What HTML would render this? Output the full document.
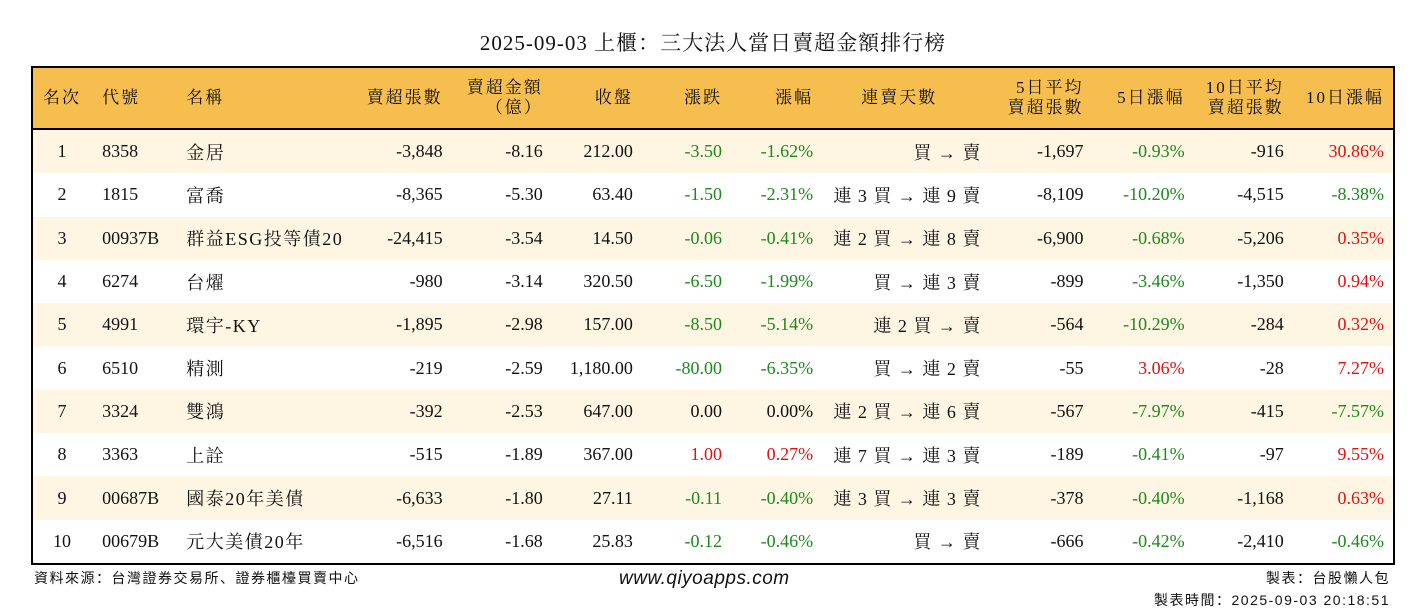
<!DOCTYPE html>
<html><head><meta charset="utf-8">
<style>
body{margin:0;width:1426px;height:612px;background:#fff;font-family:"Liberation Serif","Noto Serif CJK SC",serif;color:#111;position:relative;overflow:hidden}
#title{position:absolute;top:27px;left:0;width:1426px;text-align:center;font-size:21px;letter-spacing:1px}
#tbl{position:absolute;left:31px;top:66px;width:1364px;border:2px solid #000;box-sizing:border-box;border-collapse:collapse;font-size:18px;table-layout:fixed}
#tbl th{background:#F6BE4F;height:60px;font-weight:normal;font-size:17px;line-height:20px;border-bottom:2px solid #000;padding:0;letter-spacing:2px}
#tbl td{height:43.3px;padding:0;white-space:nowrap}
#tbl tr.odd td{background:#FEF6E2}
.r{text-align:right}.c{text-align:center}.l{text-align:left}
.g{color:#1b8a1b}.red{color:#e31010}
.cjk{letter-spacing:1.5px}
.days{letter-spacing:1px}
.foot{position:absolute;font-family:"Liberation Sans","Noto Sans CJK SC",sans-serif;font-size:14px;letter-spacing:1.5px}
</style></head><body>
<div id="title">2025-09-03 上櫃：三大法人當日賣超金額排行榜</div>
<table id="tbl">
<colgroup><col style="width:59px"><col style="width:88px"><col style="width:167px"><col style="width:96px"><col style="width:103px"><col style="width:87px"><col style="width:89px"><col style="width:91px"><col style="width:172px"><col style="width:98px"><col style="width:101px"><col style="width:99px"><col style="width:110px"></colgroup>
<thead><tr>
<th class="c">名次</th>
<th class="l" style="padding-left:11px">代號</th>
<th class="l" style="padding-left:7px">名稱</th>
<th class="r">賣超張數</th>
<th class="r" style="padding-right:3px">賣超金額<br>（億）</th>
<th class="r">收盤</th>
<th class="r">漲跌</th>
<th class="r">漲幅</th>
<th class="c">連賣天數</th>
<th class="r">5日平均<br>賣超張數</th>
<th class="r">5日漲幅</th>
<th class="r">10日平均<br>賣超張數</th>
<th class="r" style="padding-right:9px">10日漲幅</th>
</tr></thead>
<tbody id="tb"></tbody>
</table>
<div class="foot" style="left:34px;top:568px">資料來源：台灣證券交易所、證券櫃檯買賣中心</div>
<div class="foot" style="left:619px;top:568px;font-size:19px;font-style:italic;letter-spacing:0.5px">www.qiyoapps.com</div>
<div class="foot" style="right:36px;top:567px;text-align:right;line-height:22px">製表：台股懶人包<br>製表時間：2025-09-03 20:18:51</div>
<script>
const rows=[
["1","8358","金居","-3,848","-8.16","212.00","-3.50","-1.62%","買 → 賣","-1,697","-0.93%","-916","30.86%"],
["2","1815","富喬","-8,365","-5.30","63.40","-1.50","-2.31%","連 3 買 → 連 9 賣","-8,109","-10.20%","-4,515","-8.38%"],
["3","00937B","群益ESG投等債20","-24,415","-3.54","14.50","-0.06","-0.41%","連 2 買 → 連 8 賣","-6,900","-0.68%","-5,206","0.35%"],
["4","6274","台燿","-980","-3.14","320.50","-6.50","-1.99%","買 → 連 3 賣","-899","-3.46%","-1,350","0.94%"],
["5","4991","環宇-KY","-1,895","-2.98","157.00","-8.50","-5.14%","連 2 買 → 賣","-564","-10.29%","-284","0.32%"],
["6","6510","精測","-219","-2.59","1,180.00","-80.00","-6.35%","買 → 連 2 賣","-55","3.06%","-28","7.27%"],
["7","3324","雙鴻","-392","-2.53","647.00","0.00","0.00%","連 2 買 → 連 6 賣","-567","-7.97%","-415","-7.57%"],
["8","3363","上詮","-515","-1.89","367.00","1.00","0.27%","連 7 買 → 連 3 賣","-189","-0.41%","-97","9.55%"],
["9","00687B","國泰20年美債","-6,633","-1.80","27.11","-0.11","-0.40%","連 3 買 → 連 3 賣","-378","-0.40%","-1,168","0.63%"],
["10","00679B","元大美債20年","-6,516","-1.68","25.83","-0.12","-0.46%","買 → 賣","-666","-0.42%","-2,410","-0.46%"]];
const cls=["c","l","l cjk","r","r","r","r","r","r days","r","r","r","r"];
const tb=document.getElementById('tb');
rows.forEach((r,i)=>{
 const tr=document.createElement('tr');
 
 
 if(i%2===0)tr.className='odd';
 r.forEach((v,j)=>{
  const td=document.createElement('td');
  
  
  let c=cls[j];
  if([6,7,10,12].includes(j)){const n=parseFloat(v);if(n<0)c+=' g';else if(n>0)c+=' red';}
  td.className=c;
  if(j===1)td.style.paddingLeft='11px';
  if(j===2)td.style.paddingLeft='7px';
  if(j===4)td.style.paddingRight='3px';
  if(j===8)td.style.paddingRight='4px';
  if(j===12)td.style.paddingRight='9px';
  td.textContent=v;tr.appendChild(td);
 });
 tb.appendChild(tr);
});
</script>
</body></html>
